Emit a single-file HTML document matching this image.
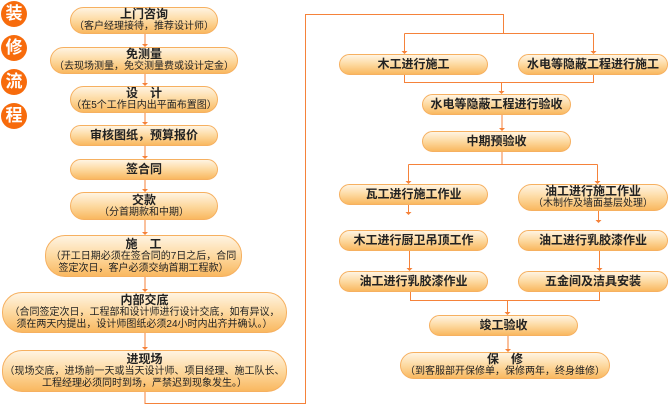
<!DOCTYPE html>
<html><head><meta charset="utf-8"><style>
body{margin:0;width:669px;height:405px;background:#fff;position:relative;overflow:hidden;font-family:"Liberation Sans","Noto Sans CJK SC",sans-serif;}
.b{position:absolute;box-sizing:border-box;border:1px solid #f6b060;border-radius:14px;background:linear-gradient(#fff4e2 0%,#fdd9a0 50%,#f9b860 100%);color:#222;text-align:center;display:flex;flex-direction:column;justify-content:center;line-height:13px;}
.t{font-size:12px;font-weight:bold;}
.s{font-size:10px;line-height:12px;}
.c{position:absolute;width:26px;height:26px;border-radius:13px;background:#f76b0c;color:#fff;font-size:17px;font-weight:bold;text-align:center;line-height:26px;left:1px;}
svg{position:absolute;left:0;top:0;}
</style></head><body>
<div class="c" style="top:1px">装</div>
<div class="c" style="top:35px">修</div>
<div class="c" style="top:69px">流</div>
<div class="c" style="top:103px">程</div>
<svg width="669" height="405">
<g stroke="#f5823a" stroke-width="1" fill="none">
<path d="M145 34V45M145 74V84M145 113V123M145 146V157M145 180V190M145 220V233M145 277V290M145 333V348"/>
<path d="M145 392V403.5H305.5V14.5H503.5V33.5M404.5 33.5H593.5M404.5 33.5V51M593.5 33.5V51"/>
<path d="M404.5 75V82.5H593.5V75M501.5 82.5V91M502 115V128M502 152V164.5M408.5 164.5H597.5M408.5 164.5V181M597.5 164.5V181"/>
<path d="M408.5 205V212M598.5 211V220M409.5 251V268M599.5 251V268M410.5 292V300.5H599.5V292M507.5 300.5V312M508 336V349"/>
</g>
<g fill="#f5823a">
<path d="M142 44h6l-3 3zM142 83h6l-3 3zM142 122h6l-3 3zM142 156h6l-3 3zM142 189h6l-3 3zM142 232h6l-3 3zM142 289h6l-3 3zM142 347h6l-3 3z"/>
<path d="M401.5 51h6l-3 3zM590.5 51h6l-3 3zM498.5 91h6l-3 3zM499 128h6l-3 3zM405.5 181h6l-3 3zM594.5 181h6l-3 3z"/>
<path d="M405.5 212h6l-3 3zM595.5 220h6l-3 3zM406.5 268h6l-3 3zM596.5 268h6l-3 3zM504.5 312h6l-3 3zM505 349h6l-3 3z"/>
</g>
</svg>
<div class="b" style="left:70px;top:7px;width:148px;height:27px"><span class="t">上门咨询</span><span class="s">（客户经理接待，推荐设计师）</span></div>
<div class="b" style="left:50px;top:47px;width:188px;height:27px"><span class="t">免测量</span><span class="s">（去现场测量，免交测量费或设计定金）</span></div>
<div class="b" style="left:70px;top:86px;width:148px;height:27px"><span class="t">设　计</span><span class="s">（在5个工作日内出平面布置图）</span></div>
<div class="b" style="left:70px;top:125px;width:148px;height:21px"><span class="t">审核图纸，预算报价</span></div>
<div class="b" style="left:70px;top:159px;width:148px;height:21px"><span class="t">签合同</span></div>
<div class="b" style="left:70px;top:192px;width:148px;height:28px"><span class="t">交款</span><span class="s">（分首期款和中期）</span></div>
<div class="b" style="left:45px;top:235px;width:197px;height:42px;border-radius:20px"><span class="t">施　工</span><span class="s">（开工日期必须在签合同的7日之后，合同<br>签定次日，客户必须交纳首期工程款）</span></div>
<div class="b" style="left:2px;top:292px;width:285px;height:41px;border-radius:20px"><span class="t">内部交底</span><span class="s">（合同签定次日，工程部和设计师进行设计交底，如有异议，<br>须在两天内提出，设计师图纸必须24小时内出齐并确认。）</span></div>
<div class="b" style="left:2px;top:350px;width:285px;height:42px;border-radius:20px"><span class="t">进现场</span><span class="s">（现场交底，进场前一天或当天设计师、项目经理、施工队长、<br>工程经理必须同时到场，严禁迟到现象发生。）</span></div>
<div class="b" style="left:339px;top:54px;width:149px;height:21px"><span class="t">木工进行施工</span></div>
<div class="b" style="left:518px;top:54px;width:150px;height:21px"><span class="t">水电等隐蔽工程进行施工</span></div>
<div class="b" style="left:422px;top:94px;width:149px;height:21px"><span class="t">水电等隐蔽工程进行验收</span></div>
<div class="b" style="left:422px;top:131px;width:149px;height:21px"><span class="t">中期预验收</span></div>
<div class="b" style="left:339px;top:184px;width:149px;height:21px"><span class="t">瓦工进行施工作业</span></div>
<div class="b" style="left:518px;top:184px;width:150px;height:27px"><span class="t">油工进行施工作业</span><span class="s">（木制作及墙面基层处理）</span></div>
<div class="b" style="left:339px;top:230px;width:149px;height:21px"><span class="t">木工进行厨卫吊顶工作</span></div>
<div class="b" style="left:518px;top:230px;width:150px;height:21px"><span class="t">油工进行乳胶漆作业</span></div>
<div class="b" style="left:339px;top:271px;width:149px;height:21px"><span class="t">油工进行乳胶漆作业</span></div>
<div class="b" style="left:518px;top:271px;width:150px;height:21px"><span class="t">五金间及洁具安装</span></div>
<div class="b" style="left:429px;top:315px;width:149px;height:21px"><span class="t">竣工验收</span></div>
<div class="b" style="left:400px;top:352px;width:210px;height:27px"><span class="t">保　修</span><span class="s">（到客服部开保修单，保修两年，终身维修）</span></div>
</body></html>
